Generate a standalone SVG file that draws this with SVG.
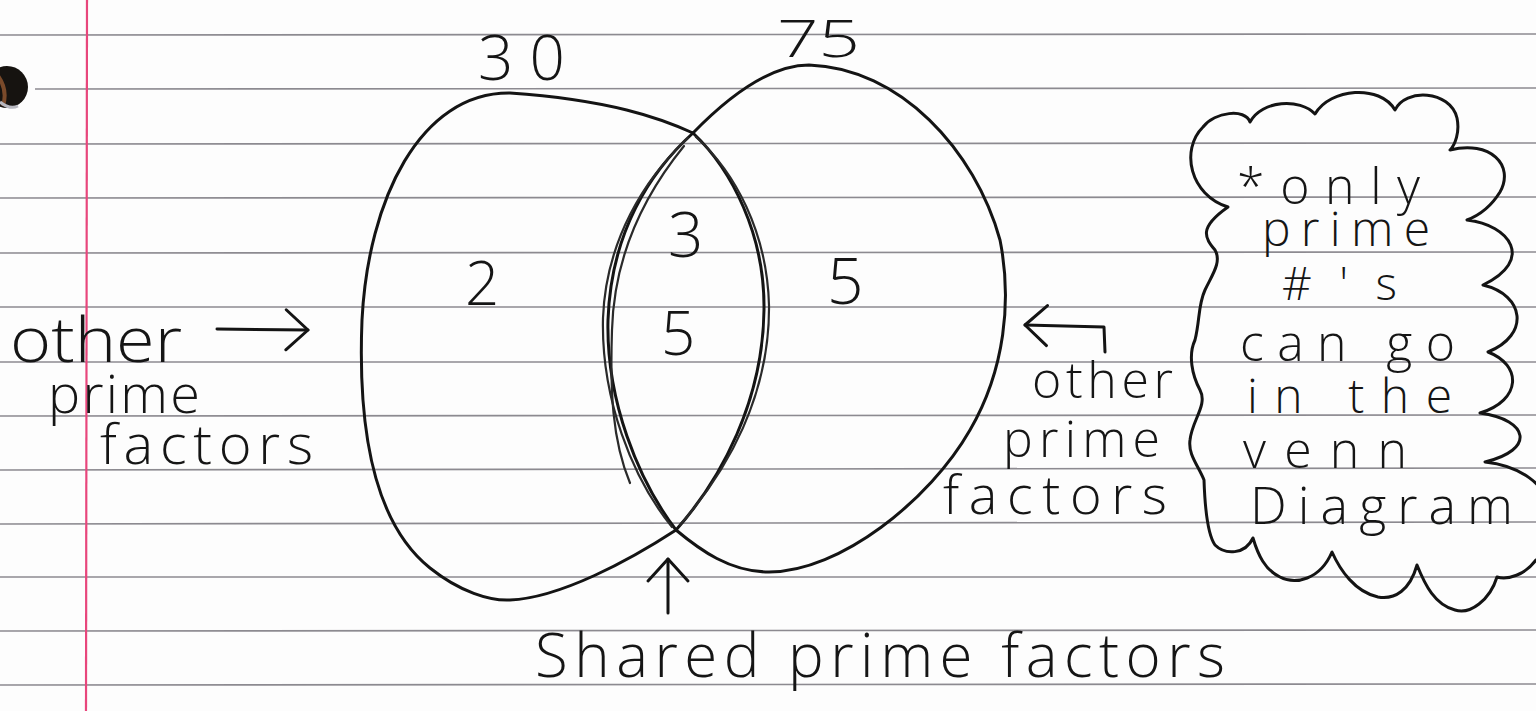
<svg xmlns="http://www.w3.org/2000/svg" width="1536" height="711" viewBox="0 0 1536 711">
  <defs>
    <style>
      .rule { stroke: #8c8a90; stroke-width: 1.6; fill: none; }
      .margin { stroke: #e8467c; stroke-width: 2.2; fill: none; }
      .ink { stroke: #141414; stroke-width: 3; fill: none; stroke-linecap: round; stroke-linejoin: round; }
      .ink2 { stroke: #2a2a2a; stroke-width: 2.2; fill: none; stroke-linecap: round; }
      .hw { font-family: "Open Sans", "Liberation Sans", sans-serif; font-weight: 300; fill: #151515; }
    </style>
    <marker id="head" viewBox="-26 -24 30 48" markerWidth="30" markerHeight="48" refX="0" refY="0" orient="auto" markerUnits="userSpaceOnUse" overflow="visible">
      <path d="M -22,-20 L 0,0 L -22,20" fill="none" stroke="#141414" stroke-width="3" stroke-linecap="round" stroke-linejoin="round"/>
    </marker>
  </defs>

  <rect x="0" y="0" width="1536" height="711" fill="#fdfdfd"/>

  <g id="paper">
    <line class="rule" x1="0" y1="35" x2="1536" y2="34"/>
    <line class="rule" x1="35" y1="89" x2="1536" y2="88"/>
    <line class="rule" x1="0" y1="144" x2="1536" y2="143"/>
    <line class="rule" x1="0" y1="198" x2="1536" y2="197"/>
    <line class="rule" x1="0" y1="253" x2="1536" y2="252"/>
    <line class="rule" x1="0" y1="307" x2="1536" y2="307"/>
    <line class="rule" x1="0" y1="362" x2="1536" y2="362"/>
    <line class="rule" x1="0" y1="416" x2="1536" y2="415"/>
    <line class="rule" x1="0" y1="470" x2="1536" y2="468"/>
    <line class="rule" x1="0" y1="524" x2="1536" y2="522"/>
    <line class="rule" x1="0" y1="577" x2="1536" y2="577"/>
    <line class="rule" x1="0" y1="631" x2="1536" y2="630"/>
    <line class="rule" x1="0" y1="685" x2="1536" y2="684"/>
    <line class="margin" x1="87" y1="0" x2="86" y2="711"/>
    <circle cx="7" cy="87" r="21" fill="#161310"/>
    <path d="M -2,76 Q 8,90 3,106" stroke="#7a4a2a" stroke-width="4" fill="none"/>
    <path d="M 0,102 Q 10,110 18,106" stroke="#b8b8c0" stroke-width="3" fill="none"/>
  </g>

  <g id="set-30">
    <path class="ink" d="M 693,133 C 660,118 610,100 510,93 C 420,92 368,200 362,320 C 358,420 370,520 430,568 C 460,592 490,601 510,600 C 560,598 630,560 676,530"/>
    <path class="ink" d="M 676,530 C 722,478 763,400 764,310 C 765,235 732,170 693,133"/>
    <path class="ink2" d="M 680,525 C 728,470 770,395 769,305 C 767,232 735,172 696,137"/>
    <text class="hw" x="478" y="80" font-size="62" textLength="87" lengthAdjust="spacing">30</text>
    <text class="hw" x="465" y="305" font-size="60">2</text>
  </g>

  <g id="set-75">
    <path class="ink" d="M 693,133 C 730,95 770,65 809,65 C 900,68 975,150 1000,240 C 1012,300 1005,370 970,430 C 930,500 840,572 769,572 C 730,572 700,550 676,530"/>
    <path class="ink" d="M 676,530 C 638,480 606,400 608,320 C 611,232 650,172 693,133"/>
    <path class="ink2" d="M 672,527 C 632,478 601,398 603,318 C 606,240 645,178 688,138"/>
    <path class="ink2" d="M 630,483 C 612,440 610,390 612,330 C 614,260 640,200 684,146"/>
    <text class="hw" x="777" y="57" font-size="52" textLength="83" lengthAdjust="spacingAndGlyphs">75</text>
    <text class="hw" x="827" y="304" font-size="64">5</text>
  </g>

  <g id="shared">
    <text class="hw" x="668" y="257" font-size="62">3</text>
    <text class="hw" x="661" y="355" font-size="60">5</text>
  </g>

  <g id="connectors">
    <path class="ink" d="M 217,329 L 308,330" marker-end="url(#head)"/>
    <path class="ink" d="M 1105,352 L 1104,327 L 1025,325" marker-end="url(#head)"/>
    <path class="ink" d="M 668,613 L 668,559" marker-end="url(#head)"/>
  </g>

  <g id="label-left">
    <text class="hw" x="10" y="362" font-size="62" textLength="172" lengthAdjust="spacingAndGlyphs">other</text>
    <text class="hw" x="48" y="413" font-size="54" textLength="152" lengthAdjust="spacing">prime</text>
    <text class="hw" x="100" y="464" font-size="56" textLength="213" lengthAdjust="spacing">factors</text>
  </g>

  <g id="label-right">
    <text class="hw" x="1032" y="398" font-size="50" textLength="141" lengthAdjust="spacing">other</text>
    <text class="hw" x="1003" y="457" font-size="50" textLength="157" lengthAdjust="spacing">prime</text>
    <text class="hw" x="943" y="514" font-size="54" textLength="224" lengthAdjust="spacing">factors</text>
  </g>

  <g id="label-bottom">
    <text class="hw" x="535" y="677" font-size="60" textLength="690" lengthAdjust="spacing">Shared prime factors</text>
  </g>

  <g id="note">
    <path class="ink" d="M 1228,207
      C 1190,195 1180,150 1203,127
      C 1215,112 1245,108 1250,122
      C 1262,100 1300,98 1315,114
      C 1330,88 1380,84 1395,110
      C 1405,88 1450,90 1457,118
      C 1460,132 1455,145 1450,150
      C 1490,140 1515,165 1500,192
      C 1492,205 1480,215 1467,220
      C 1510,225 1535,260 1483,285
      C 1525,295 1530,335 1488,352
      C 1522,365 1522,400 1480,413
      C 1530,420 1535,450 1485,462
      C 1560,470 1570,540 1536,560
      C 1525,575 1508,580 1497,577
      C 1490,600 1470,615 1455,610
      C 1435,605 1425,585 1417,565
      C 1410,590 1395,600 1378,597
      C 1355,592 1340,570 1332,552
      C 1320,580 1295,585 1280,577
      C 1265,570 1258,555 1253,538
      C 1245,555 1225,555 1215,545
      C 1208,535 1205,510 1204,480
      C 1198,465 1188,455 1190,440
      C 1192,420 1208,405 1200,390
      C 1192,375 1188,355 1195,340
      C 1200,320 1198,305 1205,290
      C 1212,275 1222,262 1215,250
      C 1205,238 1198,228 1228,207 Z"/>
    <text class="hw" x="1237" y="204" font-size="50" textLength="183" lengthAdjust="spacing">*only</text>
    <text class="hw" x="1262" y="246" font-size="48" textLength="168" lengthAdjust="spacing">prime</text>
    <text class="hw" x="1282" y="300" font-size="46" textLength="115" lengthAdjust="spacing">#'s</text>
    <text class="hw" x="1240" y="361" font-size="50" textLength="215" lengthAdjust="spacing">can go</text>
    <text class="hw" x="1247" y="413" font-size="48" textLength="205" lengthAdjust="spacing">in the</text>
    <text class="hw" x="1243" y="468" font-size="50" textLength="164" lengthAdjust="spacing">venn</text>
    <text class="hw" x="1250" y="524" font-size="52" textLength="263" lengthAdjust="spacing">Diagram</text>
  </g>
</svg>
